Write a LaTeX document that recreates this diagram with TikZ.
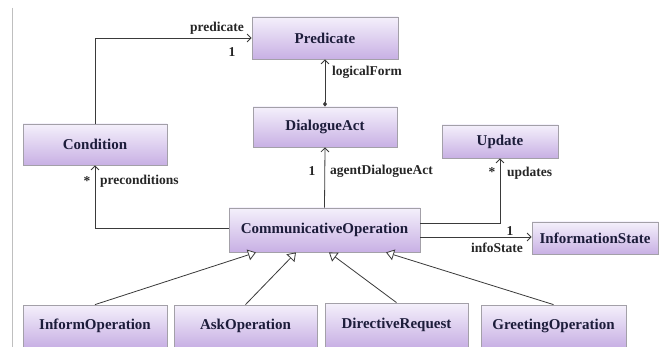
\documentclass[tikz,border=0pt]{standalone}
\usepackage{fontspec}
\setmainfont{Liberation Serif}
\usetikzlibrary{arrows.meta,calc,shadows}
\definecolor{boxtop}{HTML}{F4F0FB}
\definecolor{boxbot}{HTML}{C8B0E4}
\definecolor{boxline}{HTML}{A3A0A8}
\definecolor{boxtext}{HTML}{1C1C3A}
\definecolor{linec}{HTML}{3A3A3A}
\tikzset{
  umlbox/.style={rectangle, draw=boxline, line width=0.8pt, top color=boxtop, bottom color=boxbot,
    inner sep=0pt, text=boxtext, font=\fontsize{15}{17}\selectfont\bfseries,
    drop shadow={shadow xshift=1.2pt, shadow yshift=-1.2pt, opacity=0.25, fill=black}},
  lbl/.style={inner sep=0pt, text=black!85, font=\fontsize{13.5}{15}\selectfont\bfseries},
  assoc/.style={draw=linec, line width=0.8pt, -{Straight Barb[length=4pt,width=8pt]}},
  compo/.style={draw=linec, line width=0.8pt, {Diamond[length=5pt,width=4pt]}-{Straight Barb[length=4pt,width=8pt]}},
  inherit/.style={draw=linec, line width=0.8pt, -{Triangle[open,length=8pt,width=11pt,fill=white]}},
}
\begin{document}
\begin{tikzpicture}[x=1pt,y=-1pt]
\useasboundingbox[fill=white] (0,0) rectangle (666,347);
\draw[black!25, line width=1pt] (12.5,8) -- (12.5,347);

\node[umlbox, minimum width=146pt, minimum height=42pt] (pred) at (325,38) {Predicate};
\node[umlbox, minimum width=144pt, minimum height=40pt] (da) at (325,127) {DialogueAct};
\node[umlbox, minimum width=144pt, minimum height=41pt] (cond) at (95,144.5) {Condition};
\node[umlbox, minimum width=116pt, minimum height=33pt] (upd) at (500,141.5) {Update};
\node[umlbox, minimum width=191pt, minimum height=44pt] (co) at (324.5,230) {CommunicativeOperation};
\node[umlbox, minimum width=126pt, minimum height=32pt] (is) at (595,238) {InformationState};
\node[umlbox, minimum width=144pt, minimum height=42pt] (inf) at (95,326) {InformOperation};
\node[umlbox, minimum width=143pt, minimum height=42pt] (ask) at (245.5,326) {AskOperation};
\node[umlbox, minimum width=143pt, minimum height=44pt] (dir) at (396.5,325) {DirectiveRequest};
\node[umlbox, minimum width=145pt, minimum height=42pt] (gre) at (553.5,326) {GreetingOperation};

% associations
\draw[assoc] (cond.north) |- (pred.west);
\node[lbl, anchor=east] (lpred) at (244,28) {predicate};
\node[lbl] (lpred1) at (232,52) {1};

\draw[compo] (da.north) -- (pred.south);
\node[lbl, anchor=west] (llf) at (332,72) {logicalForm};

\draw[assoc] (co.north) -- (da.south);
\node[lbl] (lad1) at (312,171) {1};
\node[lbl, anchor=west] (lad) at (330,171) {agentDialogueAct};

\draw[assoc] ($(co.west)+(0,-2)$) -| (cond.south);
\node[lbl] (lpre1) at (87,181) {*};
\node[lbl, anchor=west] (lpre) at (100,181) {preconditions};

\draw[assoc] ($(co.east)+(0,-7)$) -| (upd.south);
\node[lbl] (lupd1) at (492,172) {*};
\node[lbl, anchor=west] (lupd) at (507,173) {updates};

\draw[assoc] ($(co.east)+(0,7)$) -- (is.west |- {$(co.east)+(0,7)$});
\node[lbl] (lis1) at (510,231) {1};
\node[lbl] (lis) at (497,248) {infoState};

% generalizations
\draw[inherit] (inf.north) -- ($(co.south)+(-68.5,0)$);
\draw[inherit] (ask.north) -- ($(co.south)+(-28.5,0)$);
\draw[inherit] (dir.north) -- ($(co.south)+(4.5,0)$);
\draw[inherit] (gre.north) -- ($(co.south)+(61.5,0)$);
\end{tikzpicture}
\end{document}
